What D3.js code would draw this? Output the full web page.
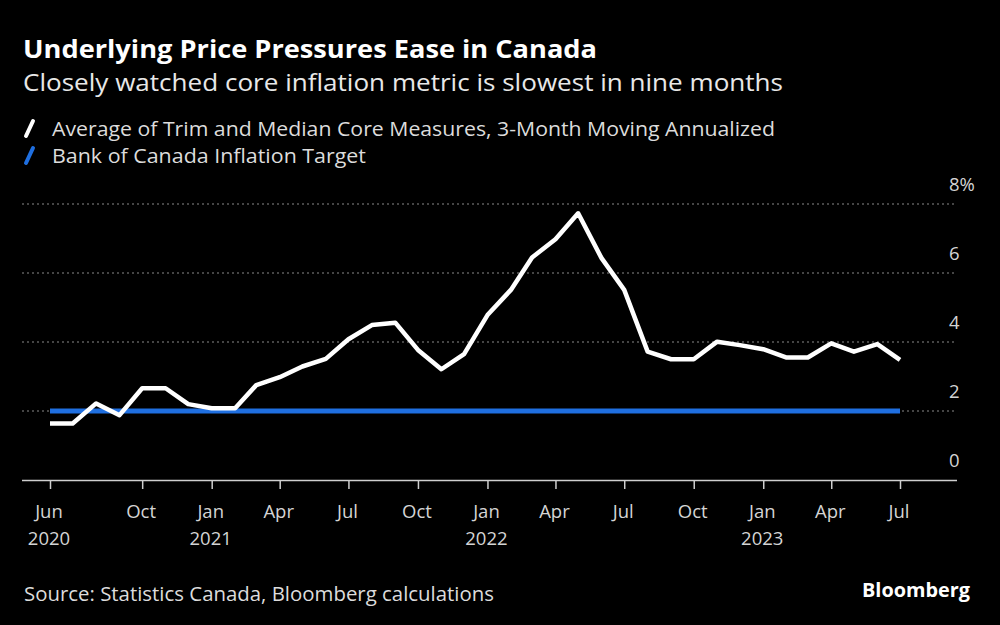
<!DOCTYPE html>
<html><head><meta charset="utf-8">
<script src="https://cdn.jsdelivr.net/npm/d3@7/dist/d3.min.js"></script>
<style>
html,body{margin:0;padding:0;background:#000;}
svg{display:block;}
text{font-family:"Open Sans","Noto Sans",sans-serif;}
</style></head>
<body>
<svg id="chart" width="1000" height="625"></svg>
<script>
const months = ["2020-06","2020-07","2020-08","2020-09","2020-10","2020-11","2020-12",
"2021-01","2021-02","2021-03","2021-04","2021-05","2021-06","2021-07","2021-08","2021-09","2021-10","2021-11","2021-12",
"2022-01","2022-02","2022-03","2022-04","2022-05","2022-06","2022-07","2022-08","2022-09","2022-10","2022-11","2022-12",
"2023-01","2023-02","2023-03","2023-04","2023-05","2023-06","2023-07"];
const coreValues = [1.64,1.64,2.22,1.88,2.66,2.66,2.20,
2.08,2.08,2.75,2.98,3.29,3.51,4.08,4.49,4.56,3.77,3.21,3.65,
4.78,5.51,6.45,6.98,7.73,6.43,5.51,3.72,3.50,3.50,4.01,3.91,
3.79,3.55,3.55,3.96,3.72,3.94,3.48];
const targetValue = 2;
const yTicks = [0,2,4,6,8];
const xTickMonths = ["2020-06","2020-10","2021-01","2021-04","2021-07","2021-10","2022-01","2022-04","2022-07","2022-10","2023-01","2023-04","2023-07"];
const seriesNames = ["Average of Trim and Median Core Measures, 3-Month Moving Annualized","Bank of Canada Inflation Target"];
const seriesColors = ["#ffffff","#1f6fe0"];

const parse = d3.timeParse("%Y-%m");
const data = months.map((m,i)=>({date:parse(m), v:coreValues[i]}));

const svg = d3.select("#chart");
const x = d3.scaleTime().domain([parse("2020-06"), parse("2023-07")]).range([50, 900]);
const y = d3.scaleLinear().domain([0,8]).range([480, 204]);

function fitText(sel, w){ sel.attr("textLength", w).attr("lengthAdjust","spacingAndGlyphs"); return sel; }

// Titles
fitText(svg.append("text").attr("x",23).attr("y",58).attr("fill","#fff").attr("font-size",25).attr("font-weight",700).text("Underlying Price Pressures Ease in Canada"), 574);
fitText(svg.append("text").attr("x",23).attr("y",91).attr("fill","#e8e8e8").attr("font-size",24).text("Closely watched core inflation metric is slowest in nine months"), 760);

// Legend
const leg = svg.append("g");
const legW = [723, 314];
seriesNames.forEach((n,i)=>{
  const base = 136 + i*27;
  leg.append("line").attr("x1",26).attr("y1",base).attr("x2",33).attr("y2",base-15)
    .attr("stroke",seriesColors[i]).attr("stroke-width",4).attr("stroke-linecap","round");
  fitText(leg.append("text").attr("x",52).attr("y",base).attr("fill","#dcdcdc").attr("font-size",20).text(n), legW[i]);
});

// Grid
svg.append("g").selectAll("line").data(yTicks.filter(d=>d>0)).join("line")
  .attr("x1",22).attr("x2",957).attr("y1",d=>y(d)).attr("y2",d=>y(d))
  .attr("stroke","#8a8a8a").attr("stroke-width",1).attr("stroke-dasharray","2,3");

// Y labels
svg.append("g").selectAll("text").data(yTicks).join("text")
  .attr("x",949).attr("y",d=>y(d)-13).attr("fill","#d4d4d4").attr("font-size",18.5)
  .text(d=>d===8?"8%":d);

// X axis
const xAxis = d3.axisBottom(x).tickValues(xTickMonths.map(parse)).tickSize(9).tickFormat("");
const gx = svg.append("g").attr("transform","translate(0,480)").call(xAxis);
gx.select(".domain").attr("d","M22,0.5H957").attr("stroke","#cfcfcf").attr("stroke-width",1.5);
gx.selectAll(".tick line").attr("stroke","#cfcfcf").attr("stroke-width",1.5);
const fmtM = d3.timeFormat("%b"), fmtY = d3.timeFormat("%Y");
xTickMonths.map(parse).forEach(d=>{
  svg.append("text").attr("x",x(d)-1).attr("y",518).attr("text-anchor","middle").attr("fill","#d4d4d4").attr("font-size",18.5).text(fmtM(d));
  if (d.getMonth()===0 || +d===+parse("2020-06")) {
    svg.append("text").attr("x",x(d)-1).attr("y",545).attr("text-anchor","middle").attr("fill","#d4d4d4").attr("font-size",18.5).text(fmtY(d));
  }
});

// Target line
svg.append("line").attr("x1",x(parse("2020-06"))).attr("x2",x(parse("2023-07")))
  .attr("y1",y(targetValue)).attr("y2",y(targetValue))
  .attr("stroke",seriesColors[1]).attr("stroke-width",5);

// Core line
const line = d3.line().x(d=>x(d.date)).y(d=>y(d.v));
svg.append("path").datum(data).attr("d",line).attr("fill","none")
  .attr("stroke",seriesColors[0]).attr("stroke-width",4.5).attr("stroke-linejoin","round");

// Footer
fitText(svg.append("text").attr("x",24).attr("y",601).attr("fill","#dcdcdc").attr("font-size",20).text("Source: Statistics Canada, Bloomberg calculations"), 470);
fitText(svg.append("text").attr("x",862).attr("y",597).attr("fill","#fff").attr("font-size",20).attr("font-weight",700).text("Bloomberg"), 108);
</script>
</body></html>
